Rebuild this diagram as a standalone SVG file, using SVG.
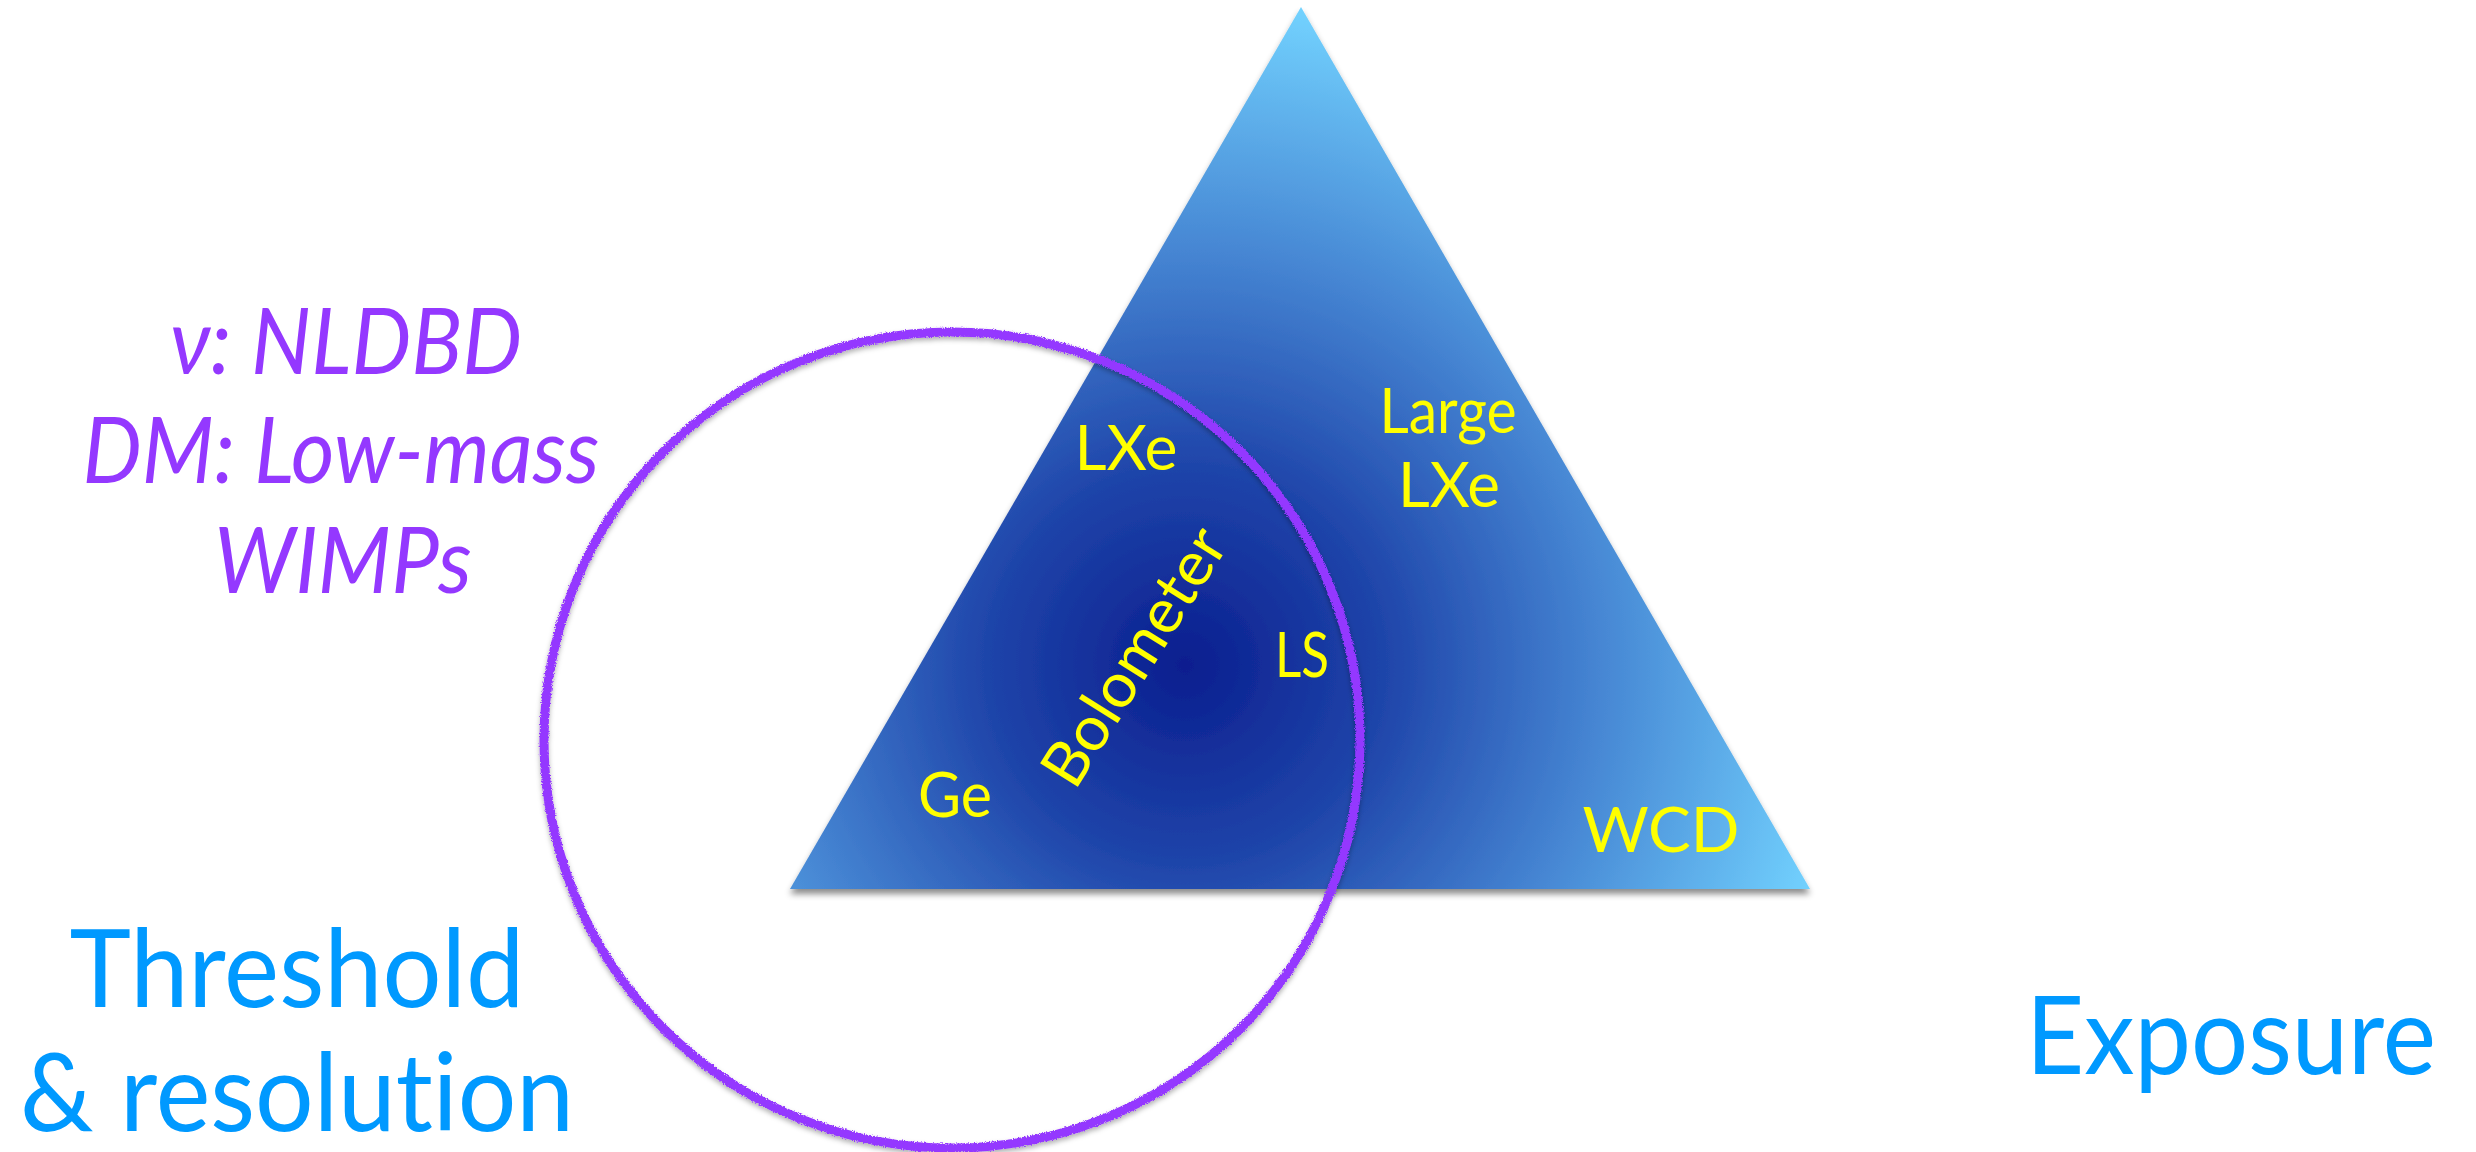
<svg xmlns="http://www.w3.org/2000/svg" width="2476" height="1152" viewBox="0 0 2476 1152">
  <defs>
    <radialGradient id="triGrad" gradientUnits="userSpaceOnUse" cx="1185" cy="665" r="670">
      <stop offset="0" stop-color="#0A1E8F"/>
      <stop offset="0.3" stop-color="#1F45AA"/>
      <stop offset="0.62" stop-color="#4686D3"/>
      <stop offset="1" stop-color="#73D3FF"/>
    </radialGradient>
    <filter id="triShadow" x="-10%" y="-10%" width="120%" height="125%">
      <feDropShadow dx="0" dy="5" stdDeviation="3" flood-color="#000" flood-opacity="0.45"/>
    </filter>
    <filter id="pencil" x="-10%" y="-10%" width="120%" height="120%">
      <feTurbulence type="fractalNoise" baseFrequency="0.9" numOctaves="2" seed="3" result="n"/>
      <feDisplacementMap in="SourceGraphic" in2="n" scale="4" xChannelSelector="R" yChannelSelector="G" result="d"/>
      <feDropShadow dx="0" dy="3" stdDeviation="2.5" flood-color="#000" flood-opacity="0.3"/>
    </filter>
  </defs>
  <style>
    .lbl { font-family: Lato, "Liberation Sans", sans-serif; font-variant-ligatures: none; font-feature-settings: "liga" 0, "clig" 0; }
    .purple { fill: #9438FF; font-style: italic; font-size: 92px; }
    .blue { fill: #0099FF; font-size: 108px; }
    .yel { fill: #FFFF00; font-size: 62px; }
  </style>
  <rect x="0" y="0" width="2476" height="1152" fill="#FFFFFF"/>

  <g id="triangle">
    <polygon points="1301,7 790,889 1810,889" fill="url(#triGrad)" filter="url(#triShadow)"/>
  </g>

  <g id="circle">
    <circle cx="952" cy="740" r="408" fill="none" stroke="#9438FF" stroke-width="9" filter="url(#pencil)"/>
  </g>

  <g id="connectors"></g>

  <g id="label-physics" class="lbl purple" text-anchor="middle">
    <text x="346" y="374" textLength="352" lengthAdjust="spacingAndGlyphs">ν: NLDBD</text>
    <text x="341" y="483" textLength="517" lengthAdjust="spacingAndGlyphs">DM: Low-mass</text>
    <text x="343" y="593" textLength="258" lengthAdjust="spacingAndGlyphs">WIMPs</text>
  </g>

  <g id="label-threshold" class="lbl blue" text-anchor="middle">
    <text x="297" y="1007" textLength="455" lengthAdjust="spacingAndGlyphs">Threshold</text>
    <text x="297" y="1131" textLength="554" lengthAdjust="spacingAndGlyphs">&amp; resolution</text>
  </g>

  <g id="label-exposure" class="lbl blue" text-anchor="middle">
    <text x="2231" y="1074" textLength="410" lengthAdjust="spacingAndGlyphs">Exposure</text>
  </g>

  <g id="node-lxe" class="lbl yel" text-anchor="middle">
    <text x="1126" y="470" textLength="103" lengthAdjust="spacingAndGlyphs">LXe</text>
  </g>
  <g id="node-large-lxe" class="lbl yel" text-anchor="middle">
    <text x="1448" y="433" textLength="137" lengthAdjust="spacingAndGlyphs">Large</text>
    <text x="1449" y="507" textLength="102" lengthAdjust="spacingAndGlyphs">LXe</text>
  </g>
  <g id="node-ls" class="lbl yel" text-anchor="middle">
    <text x="1302" y="677" textLength="54" lengthAdjust="spacingAndGlyphs">LS</text>
  </g>
  <g id="node-ge" class="lbl yel" text-anchor="middle">
    <text x="955" y="817" textLength="74" lengthAdjust="spacingAndGlyphs">Ge</text>
  </g>
  <g id="node-wcd" class="lbl yel" text-anchor="middle">
    <text x="1661" y="852" textLength="157" lengthAdjust="spacingAndGlyphs">WCD</text>
  </g>
  <g id="node-bolometer" class="lbl yel" text-anchor="middle">
    <text x="1152" y="668" transform="rotate(-58 1152 668)" textLength="292" lengthAdjust="spacingAndGlyphs">Bolometer</text>
  </g>
</svg>
